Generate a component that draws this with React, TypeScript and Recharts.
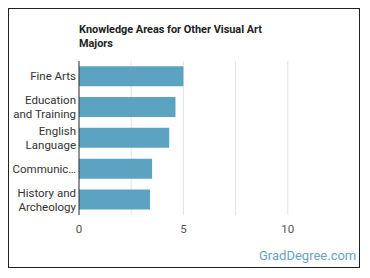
import React from "react";
import { BarChart, Bar, XAxis, YAxis, CartesianGrid } from "recharts";

const categories = ["Fine Arts", "Education and Training", "English Language", "Communications", "History and Archeology"];
const tickLabels: string[][] = [["Fine Arts"], ["Education", "and Training"], ["English", "Language"], ["Communic…"], ["History and", "Archeology"]];
const values = [5.0, 4.62, 4.32, 3.5, 3.4];
const xTicks = [0, 5, 10];
const gridTicks = [0, 2.5, 5, 7.5, 10];
const xMax = 12.5;

const data = categories.map((c, i) => ({ name: c, value: values[i] }));

const YTick = (props: any) => {
  const { x, y, payload } = props;
  const lines = tickLabels[payload.index] || [payload.value];
  const lh = 14;
  const start = -((lines.length - 1) * lh) / 2;
  return (
    <text x={x} y={y} textAnchor="end" fill="#333" fontSize={11.5} fontFamily="Roboto">
      {lines.map((l, i) => (
        <tspan key={i} x={x + 5} dy={i === 0 ? start + 4 : lh}>{l}</tspan>
      ))}
    </text>
  );
};

const gridGen = (p: any) => {
  const xAxis = p && p.xAxis;
  if (xAxis && typeof xAxis.scale === "function") {
    return gridTicks.map((v) => xAxis.scale(v));
  }
  const off = p.offset;
  return gridTicks.map((v) => off.left + (v / xMax) * off.width);
};

export default function App() {
  return (
    <div style={{ position: "relative", width: 350, height: 258, border: "1px solid #222", fontFamily: "Roboto", background: "#fff" }}>
      <div style={{ position: "absolute", left: 70, top: 14, fontSize: 10.9, fontWeight: "bold", color: "#222", lineHeight: "14px", width: 205 }}>
        Knowledge Areas for Other Visual Art Majors
      </div>
      <BarChart
        width={350}
        height={258}
        data={data}
        layout="vertical"
        margin={{ top: 52, right: 19, bottom: 22, left: 0 }}
        barCategoryGap="17%"
      >
        <CartesianGrid horizontal={false} stroke="#e3e3e3" verticalCoordinatesGenerator={gridGen} />
        <XAxis
          type="number"
          domain={[0, xMax]}
          ticks={xTicks}
          axisLine={false}
          tickLine={false}
          tick={{ fill: "#555", fontSize: 11.5, fontFamily: "Roboto" }}
          tickMargin={4}
          height={30}
        />
        <YAxis
          type="category"
          dataKey="name"
          width={70}
          axisLine={{ stroke: "#333" }}
          tickLine={false}
          tick={<YTick />}
          interval={0}
          tickMargin={2}
        />
        <Bar dataKey="value" fill="#5ba3c1" isAnimationActive={false} />
      </BarChart>
      <div style={{ position: "absolute", left: 250, top: 239, fontSize: 13, color: "#6aa3c0" }}>GradDegree.com</div>
    </div>
  );
}
